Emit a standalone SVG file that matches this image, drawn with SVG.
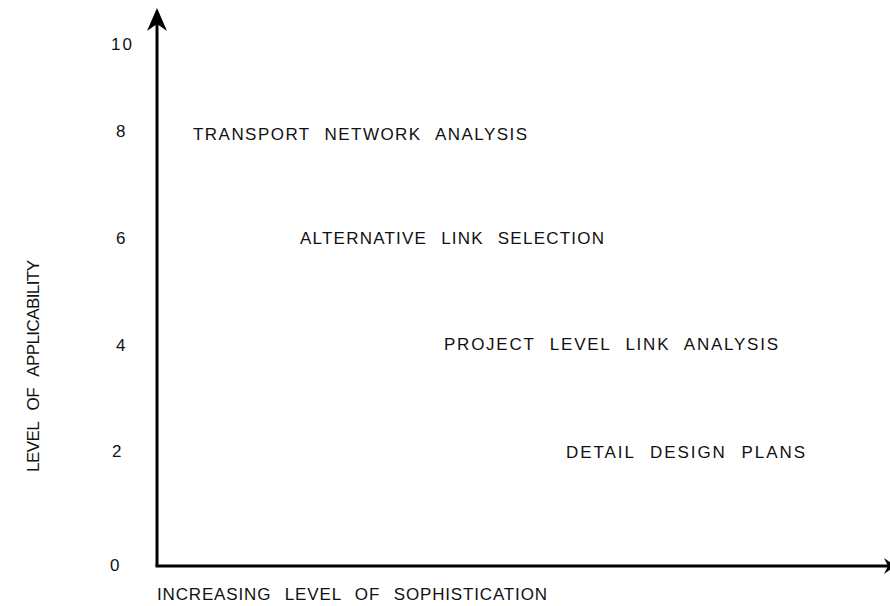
<svg xmlns="http://www.w3.org/2000/svg" width="890" height="606" viewBox="0 0 890 606">
<style>
.t{font-family:"Liberation Sans","DejaVu Sans",Arial,sans-serif;font-size:17px;fill:#111;word-spacing:8px;}
.n{font-family:"Liberation Sans","DejaVu Sans",Arial,sans-serif;font-size:17px;fill:#111;letter-spacing:2px;}
.ax{stroke:#000;stroke-width:3;fill:none;}
</style>
<rect width="890" height="606" fill="#fff"/>
<g id="connectors">
<line class="ax" x1="157" y1="14" x2="157" y2="566"/>
<line class="ax" x1="155.5" y1="566" x2="890" y2="566"/>
<path d="M157,8 L147,31 L157,24 L167,31 Z" fill="#000"/>
<path d="M895,566 L884,558 L888,566 L884,574 Z" fill="#000"/>
</g>
<g id="ticks">
<text class="n" x="111" y="50">10</text>
<text class="n" x="116" y="137">8</text>
<text class="n" x="116" y="244">6</text>
<text class="n" x="116" y="351">4</text>
<text class="n" x="112" y="457">2</text>
<text class="n" x="110" y="571">0</text>
</g>
<g id="ylabel">
<text class="t" transform="translate(39,366) rotate(-90)" text-anchor="middle" textLength="212" lengthAdjust="spacing">LEVEL OF APPLICABILITY</text>
</g>
<g id="n1"><text class="t" x="193" y="140" textLength="334" lengthAdjust="spacing">TRANSPORT NETWORK ANALYSIS</text></g>
<g id="n2"><text class="t" x="300" y="244" textLength="304" lengthAdjust="spacing">ALTERNATIVE LINK SELECTION</text></g>
<g id="n3"><text class="t" x="444" y="350" textLength="334" lengthAdjust="spacing">PROJECT LEVEL LINK ANALYSIS</text></g>
<g id="n4"><text class="t" x="566" y="458" textLength="239" lengthAdjust="spacing">DETAIL DESIGN PLANS</text></g>
<g id="xlabel"><text class="t" x="157" y="600" textLength="390" lengthAdjust="spacing">INCREASING LEVEL OF SOPHISTICATION</text></g>
</svg>
